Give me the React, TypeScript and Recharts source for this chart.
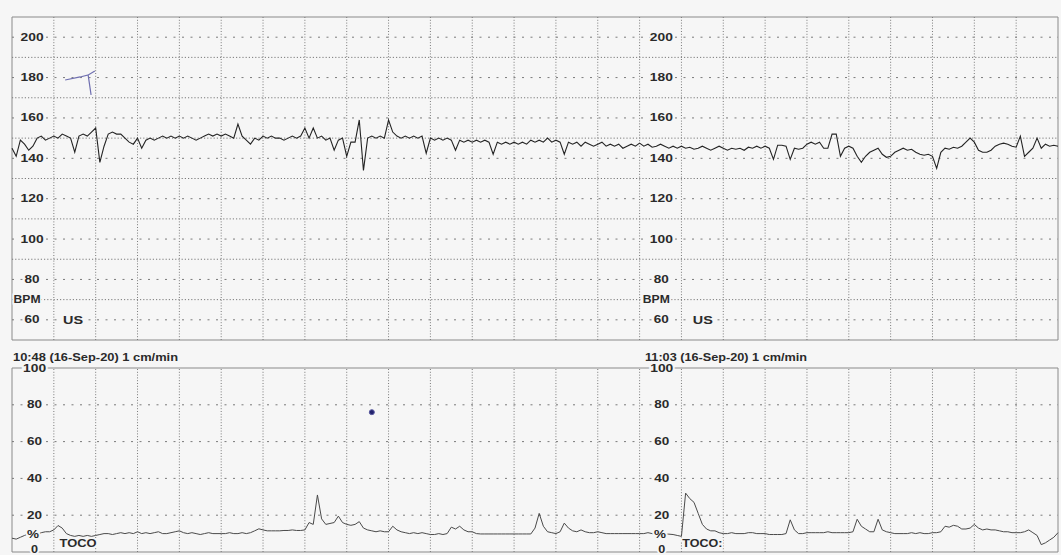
import { LineChart, Line, XAxis, YAxis, ReferenceLine, ReferenceArea, ReferenceDot } from "recharts";

// paper strip: x axis is in grid squares (1 square = 1 cm), 25 squares across
const PAPER = "#f6f6f6";
const GRID = "#7a7a7a";
const INK = "#2a2a2a";
const FONT = "'Liberation Sans', Arial, sans-serif";

const HEADERS = ["10:48 (16-Sep-20) 1 cm/min", "11:03 (16-Sep-20) 1 cm/min"];
const SQUARES = [1, 2, 3, 4, 5, 6, 7, 8, 9, 10, 11, 12, 13, 14, 15, 16, 17, 18, 19, 20, 21, 22, 23, 24];

const BPM_TICKS = [200, 180, 160, 140, 120, 100, 80, 60];
const BPM_MINOR = [190, 170, 150, 130, 110, 90, 70];
const TOCO_TICKS = [100, 80, 60, 40, 20, 0];
const TOCO_GRID = [80, 60, 40, 20];

// label columns (in squares) for each 15 min half of the strip
const BPM_COLS = [0.48, 15.52];
const TOCO_COLS = [0.54, 15.53];
const US_COLS = [1.46, 16.51];
const TOCO_NAME_COLS = [1.58, 16.5];
const TOCO_NAMES = ["TOCO", "TOCO:"];

// fetal heart rate, one reading every 0.1 square
const FHR_BPM = [
  145, 141, 149, 147, 144, 146, 150, 151, 149, 150,
  151, 150, 152, 151, 150, 143, 151, 152, 151, 153,
  155, 138, 146, 152, 153, 152, 152, 150, 148, 147,
  150, 145, 149, 150, 149, 150, 151, 150, 151, 150,
  151, 150, 151, 150, 149, 150, 151, 152, 151, 152,
  151, 152, 151, 150, 157, 151, 149, 147, 150, 149,
  151, 150, 151, 150, 150, 149, 150, 151, 150, 151,
  155, 150, 155, 150, 151, 149, 150, 144, 149, 150,
  141, 148, 148, 159, 134, 150, 151, 150, 151, 150,
  159, 153, 151, 150, 151, 150, 151, 150, 151, 142.5,
  150, 149, 150, 149, 150, 149, 144, 149, 148, 149,
  148, 149, 148, 149, 148, 142, 148, 147, 148, 147,
  148, 147, 148, 147, 149, 148, 149, 148, 150, 148,
  149, 148, 142, 148, 147, 148, 146, 148, 147, 146,
  147, 148, 146, 147, 146, 147, 145, 146, 147, 146,
  147.5, 146, 147, 145.5, 146, 147, 146, 145, 146, 145,
  146, 145, 145.5, 144.5, 145, 146, 145, 144, 145, 146,
  145, 144, 145, 144.5, 145, 144, 145.5, 145, 146, 145,
  146, 145, 139.5, 146.5, 146.5, 146, 139.5, 145, 144.5, 145,
  147, 148, 147, 148, 145, 145, 152, 152, 141, 145,
  146, 145, 141, 138, 141, 143, 144, 145, 142, 140.5,
  141, 143, 144, 145, 144, 144.5, 143, 142, 141.5, 142,
  141, 135, 143, 145, 144.5, 145.5, 145, 146, 148, 150,
  148, 144, 143, 143, 144, 146, 147, 147.5, 147, 146,
  145.5, 151, 141, 143, 145, 150, 145, 147, 146, 146.5, 146,
];

// uterine activity (%), same sampling
const TOCO_PCT = [
  7.5, 7, 8, 9, 10, 10, 9.5, 10.5, 11, 11,
  12, 14.4, 13, 10, 9, 8.5, 9, 8.5, 9, 8.5,
  9, 9.5, 10, 10, 9.5, 10, 10.5, 10, 10.5, 10,
  11, 10, 10.5, 10, 10.5, 11, 10, 10, 10.5, 11,
  11.5, 10.5, 10, 10.5, 10, 9.5, 10, 10.5, 10, 10,
  10, 10, 10.5, 10, 10, 10.5, 10, 10.5, 11.5, 12.6,
  12, 11.5, 11.5, 11.5, 11.5, 11.7, 11.7, 12, 11.7, 11.7,
  12, 16, 15, 31, 18, 15, 15.5, 16, 19.5, 16,
  15, 14.5, 15, 16.5, 13, 12, 11.5, 11, 11.5, 11,
  11, 14, 12, 11, 10.5, 10, 10.5, 10, 10.5, 10,
  9.5, 9.5, 10, 9.5, 10, 13.5, 12.5, 14, 12, 11,
  11, 10, 9.8, 9.8, 9.8, 9.8, 9.8, 9.8, 9.8, 9.8,
  9.8, 9.8, 9.8, 9.8, 9.8, 13, 21, 14, 11, 10.5,
  10, 11, 15.7, 13, 11.5, 11, 12, 11, 10.5, 10.5,
  11, 10.5, 10, 10, 10, 10, 10, 10, 10, 10,
  10, 10, 10.5, 10, 9.8, 9.8, 9.7, 9.7, 9.5, 9,
  8.5, 32, 29, 27, 21, 15, 12.5, 11.5, 11.5, 10.5,
  10, 10, 10.5, 10, 10, 10, 10.5, 10.5, 10, 10,
  10, 9.5, 9.5, 9.5, 9.5, 10, 17.5, 12, 10, 10,
  10.5, 10.5, 10.5, 10.5, 10.5, 11, 10.5, 10.5, 10.5, 10.5,
  10.5, 11, 17.8, 14, 12.5, 11, 11, 17.8, 12, 11,
  10.5, 10, 10, 10, 10, 10.5, 10, 10.5, 10, 10,
  10.5, 10.5, 11, 14, 13.5, 14.5, 14, 12.5, 12.5, 13,
  15, 13, 12, 12.5, 12, 12, 11.5, 11, 11, 10.5,
  10.5, 10.5, 11, 12, 10.5, 9, 4, 5, 6.5, 8, 10.5,
];

// handwritten pen marks on the strip
const PEN_T = [1.27, 1.63, 1.82, 1.89, 1.82, 1.98];
const PEN_BPM = [178.8, 180.3, 181.3, 171.4, 181.3, 183.3];
const PEN_DOT = { t: 8.6, pct: 76 };

const fhrData = FHR_BPM.map((bpm, i) => ({ t: i / 10, bpm }));
const tocoData = TOCO_PCT.map((pct, i) => ({ t: i / 10, pct }));
const penData = PEN_T.map((t, i) => ({ t, bpm: PEN_BPM[i] }));

// text drawn at a data point, stretched like the scanned print
function printed(text: string, width: number, size = 10) {
  return (p: any) => (
    <text
      x={p.cx}
      y={p.cy}
      textAnchor="middle"
      dominantBaseline="central"
      fontFamily={FONT}
      fontWeight="bold"
      fontSize={size}
      fill={INK}
      stroke={PAPER}
      strokeWidth={3}
      paintOrder="stroke"
      textLength={width}
      lengthAdjust="spacingAndGlyphs"
    >
      {text}
    </text>
  );
}

function gridLines(values: number[], axis: "x" | "y", dash: string) {
  return values.map((v) =>
    axis === "x" ? (
      <ReferenceLine key={`x${v}`} x={v} stroke={GRID} strokeDasharray={dash} />
    ) : (
      <ReferenceLine key={`y${v}-${dash}`} y={v} stroke={GRID} strokeDasharray={dash} />
    )
  );
}

function FhrPanel() {
  return (
    <LineChart width={1061} height={345} data={fhrData} margin={{ top: 17, right: 3, bottom: 5, left: 12 }}>
      <XAxis dataKey="t" type="number" domain={[0, 25]} hide />
      <YAxis type="number" domain={[50, 210]} hide />
      <ReferenceArea x1={0} x2={25} y1={50} y2={210} fill={PAPER} stroke="#8a8a8a" strokeWidth={1} />
      {gridLines(SQUARES, "x", "1 1.8")}
      {gridLines(BPM_MINOR, "y", "1.2 2")}
      {gridLines(BPM_TICKS, "y", "2 6.5")}
      {BPM_COLS.map((c) =>
        BPM_TICKS.map((v) => (
          <ReferenceDot key={`b${c}-${v}`} x={c} y={v} r={0} shape={printed(String(v), v >= 100 ? 23 : 15)} />
        ))
      )}
      {BPM_COLS.map((c) => (
        <ReferenceDot key={`bpm${c}`} x={c - 0.12} y={70} r={0} shape={printed("BPM", 27)} />
      ))}
      {US_COLS.map((c) => (
        <ReferenceDot key={`us${c}`} x={c} y={60} r={0} shape={printed("US", 20, 11)} />
      ))}
      <Line
        type="linear"
        data={penData}
        dataKey="bpm"
        stroke="#6f6fb0"
        strokeWidth={1.2}
        dot={false}
        isAnimationActive={false}
      />
      <Line
        type="linear"
        dataKey="bpm"
        stroke="#242424"
        strokeWidth={1.1}
        dot={false}
        isAnimationActive={false}
      />
    </LineChart>
  );
}

function TocoPanel() {
  return (
    <LineChart width={1061} height={203} data={tocoData} margin={{ top: 16, right: 3, bottom: 3, left: 12 }}>
      <XAxis dataKey="t" type="number" domain={[0, 25]} hide />
      <YAxis type="number" domain={[0, 100]} hide />
      <ReferenceArea x1={0} x2={25} y1={0} y2={100} fill={PAPER} stroke="#8a8a8a" strokeWidth={1} />
      {gridLines(SQUARES, "x", "1 1.8")}
      {gridLines(TOCO_GRID, "y", "2 6.5")}
      {TOCO_COLS.map((c) =>
        TOCO_TICKS.map((v) => (
          <ReferenceDot
            key={`p${c}-${v}`}
            x={c}
            y={v === 0 ? 1.4 : v}
            r={0}
            shape={printed(String(v), v >= 100 ? 23 : v >= 10 ? 15 : 7)}
          />
        ))
      )}
      {TOCO_COLS.map((c) => (
        <ReferenceDot key={`pc${c}`} x={c - 0.04} y={9.5} r={0} shape={printed("%", 12)} />
      ))}
      {TOCO_NAME_COLS.map((c, i) => (
        <ReferenceDot key={`tn${c}`} x={c} y={4.6} r={0} shape={printed(TOCO_NAMES[i], i === 0 ? 37 : 40)} />
      ))}
      <ReferenceDot x={PEN_DOT.t} y={PEN_DOT.pct} r={2.5} fill="#23236e" stroke="#5a5aa0" strokeWidth={1} />
      <Line
        type="linear"
        dataKey="pct"
        stroke="#4a4a4a"
        strokeWidth={1}
        dot={false}
        isAnimationActive={false}
      />
    </LineChart>
  );
}

export default function App() {
  return (
    <div
      style={{
        position: "absolute",
        left: 0,
        top: 0,
        width: 1061,
        height: 555,
        background: PAPER,
        overflow: "hidden",
      }}
    >
      <div style={{ position: "absolute", left: 0, top: 0 }}>
        <FhrPanel />
      </div>
      <svg width={1061} height={25} style={{ position: "absolute", left: 0, top: 340 }}>
        {HEADERS.map((h, i) => (
          <text
            key={h}
            x={i === 0 ? 13 : 645}
            y={21}
            fontFamily={FONT}
            fontWeight="bold"
            fontSize={10}
            fill={INK}
            textLength={i === 0 ? 165 : 162}
            lengthAdjust="spacingAndGlyphs"
          >
            {h}
          </text>
        ))}
      </svg>
      <div style={{ position: "absolute", left: 0, top: 352 }}>
        <TocoPanel />
      </div>
    </div>
  );
}
